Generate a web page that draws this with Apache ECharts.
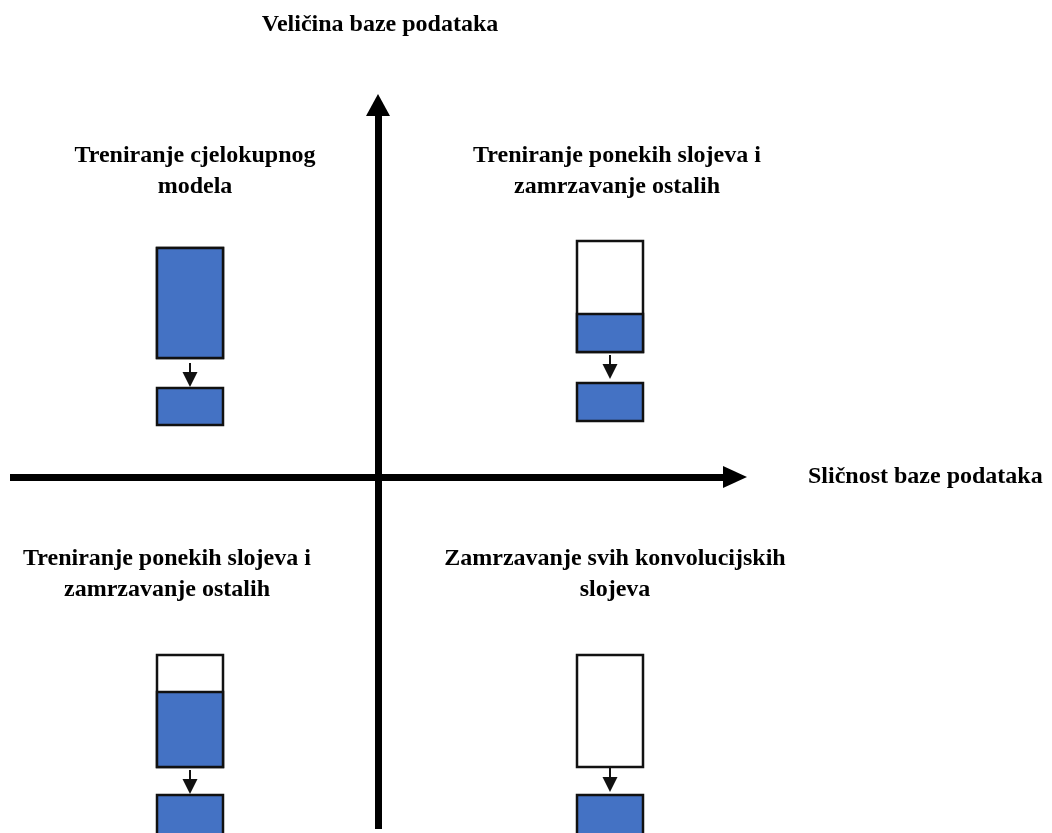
<!DOCTYPE html>
<html>
<head>
<meta charset="utf-8">
<title>Transfer learning</title>
<script src="https://cdn.jsdelivr.net/npm/echarts@6/dist/echarts.min.js"></script>
<style>
  html, body { margin: 0; padding: 0; background: #fff; }
  #chart { width: 1052px; height: 833px; }
</style>
</head>
<body>
<div id="chart"></div>
<script>
// axis titles
const yTitle = "Veličina baze podataka";
const xTitle = "Sličnost baze podataka";

// quadrant captions: top-left, top-right, bottom-left, bottom-right
const captions = [
  "Treniranje cjelokupnog\nmodela",
  "Treniranje ponekih slojeva i\nzamrzavanje ostalih",
  "Treniranje ponekih slojeva i\nzamrzavanje ostalih",
  "Zamrzavanje svih konvolucijskih\nslojeva",
];

// model blocks, in axis units (axes cross at 0,0)
const stackLeft = [-221, 199, -221, 199];
const stackRight = [-155, 265, -155, 265];
const stackTop = [229, 236, -178, -178];
const stackBottom = [119, 125, -290, -290];
const trainedTop = [229, 163, -215, null]; // null = all layers frozen
const headTop = [89, 94, -318, -318];
const headBottom = [52, 56, -360, -360];
const arrowStart = [114, 122, -293, -290];
const arrowTip = [90, 98, -317, -315];

const BLUE = "#4472c4";

const chart = echarts.init(document.getElementById("chart"));

const blocks = captions.map((c, i) => [
  stackLeft[i], stackRight[i], stackTop[i], stackBottom[i],
  trainedTop[i], headTop[i], headBottom[i], arrowStart[i], arrowTip[i],
]);

/** 繪製模型方塊 */
const renderBlock = (params, api) => {
  const x0 = api.value(0), x1 = api.value(1);
  const tl = api.coord([x0, api.value(2)]);
  const br = api.coord([x1, api.value(3)]);
  const w = br[0] - tl[0];
  const border = { stroke: "#111", lineWidth: 2.5 };
  const children = [
    { type: "rect", shape: { x: tl[0], y: tl[1], width: w, height: br[1] - tl[1] },
      style: Object.assign({ fill: "#fff" }, border) },
  ];
  const tr = api.value(4);
  if (tr !== null && !isNaN(tr)) {
    const t = api.coord([x0, tr]);
    children.push({ type: "rect", shape: { x: t[0], y: t[1], width: w, height: br[1] - t[1] },
      style: Object.assign({ fill: BLUE }, border) });
  }
  const h0 = api.coord([x0, api.value(5)]);
  const h1 = api.coord([x1, api.value(6)]);
  children.push({ type: "rect", shape: { x: h0[0], y: h0[1], width: h1[0] - h0[0], height: h1[1] - h0[1] },
    style: Object.assign({ fill: BLUE }, border) });
  // small arrow
  const cx = (tl[0] + br[0]) / 2;
  const a0 = api.coord([x0, api.value(7)])[1];
  const a1 = api.coord([x0, api.value(8)])[1];
  children.push({ type: "line", shape: { x1: cx, y1: a0, x2: cx, y2: a1 - 10 },
    style: { stroke: "#111", lineWidth: 2 } });
  children.push({ type: "polygon", shape: { points: [[cx - 7.5, a1 - 15], [cx + 7.5, a1 - 15], [cx, a1]] },
    style: { fill: "#111" } });
  return { type: "group", children };
};

const font = 'bold 24px "Liberation Serif", "Times New Roman", serif';
const captionPos = [[195, 171], [617, 171], [167, 574], [615, 574]];

const option = {
  animation: false,
  grid: { left: 10, right: 317, top: 105, bottom: 4, containLabel: false },
  xAxis: {
    type: "value", min: -368, max: 357,
    axisLine: { onZero: true, symbol: ["none", "triangle"], symbolSize: [22, 24],
      lineStyle: { color: "#000", width: 7, cap: "butt" } },
    axisTick: { show: false }, axisLabel: { show: false }, splitLine: { show: false },
  },
  yAxis: {
    type: "value", min: -352, max: 372,
    axisLine: { onZero: true, symbol: ["none", "triangle"], symbolSize: [24, 22],
      lineStyle: { color: "#000", width: 7, cap: "butt" } },
    axisTick: { show: false }, axisLabel: { show: false }, splitLine: { show: false },
  },
  series: [
    { type: "custom", renderItem: renderBlock, data: blocks, clip: false, silent: true },
  ],
  graphic: [
    { type: "text", x: 380, y: 25,
      style: { text: yTitle, font, fill: "#000", align: "center", verticalAlign: "middle" } },
    { type: "text", x: 808, y: 477,
      style: { text: xTitle, font, fill: "#000", align: "left", verticalAlign: "middle" } },
  ].concat(captions.map((c, i) => ({
    type: "text", x: captionPos[i][0], y: captionPos[i][1],
    style: { text: c, font, fill: "#000", align: "center", verticalAlign: "middle", lineHeight: 31 },
  }))),
};

chart.setOption(option);
</script>
</body>
</html>
